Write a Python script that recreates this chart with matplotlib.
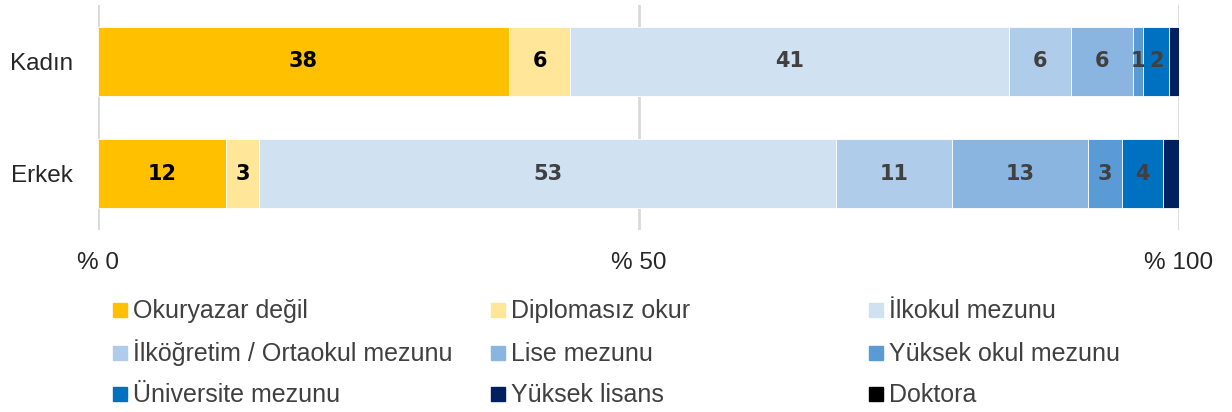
from matplotlib import pyplot as plt
from matplotlib.patches import Rectangle

groups = ['Kadın', 'Erkek']
categories = ['Okuryazar değil', 'Diplomasız okur', 'İlkokul mezunu',
              'İlköğretim / Ortaokul mezunu', 'Lise mezunu', 'Yüksek okul mezunu',
              'Üniversite mezunu', 'Yüksek lisans', 'Doktora']
kadin = [38.0, 5.7, 40.6, 5.7, 5.7, 1.0, 2.4, 1.0, 0.0]
erkek = [11.8, 3.1, 53.4, 10.7, 12.6, 3.1, 3.8, 1.5, 0.0]
colors = ['#FFC000', '#FFE699', '#D0E1F2', '#AFCCEA', '#8AB5E0',
          '#5B9BD5', '#0070C0', '#002060', '#000000']
labelColors = ['black', 'black'] + ['#404040'] * 7
showLabel = [True] * 7 + [False, False]
xticks = [0, 50, 100]
xtickLabels = ['% 0', '% 50', '% 100']

plt.rcParams['font.family'] = ['Liberation Sans', 'DejaVu Sans']

fig = plt.figure(figsize=(12.32, 4.12), dpi=100)
ax = fig.add_axes([98 / 1232, 1 - 230 / 412, 1081 / 1232, 225 / 412])

data = [kadin, erkek]
ypos = [1, 0]
for g in range(len(groups)):
    left = 0
    for i in range(len(categories)):
        v = data[g][i]
        ax.barh(ypos[g], v, left=left, height=0.616, color=colors[i],
                edgecolor='white', linewidth=0.6, zorder=3)
        if showLabel[i] and v > 0:
            ax.text(left + v / 2, ypos[g], '%d' % round(v), ha='center',
                    va='center', fontsize=15, fontweight='heavy',
                    color=labelColors[i], family='DejaVu Sans', zorder=4)
        left += v

ax.set_xlim(0, 100)
ax.set_ylim(-0.5, 1.5)
ax.set_xticks(xticks)
ax.set_xticklabels(xtickLabels)
ax.set_yticks(ypos)
ax.set_yticklabels(groups)
ax.tick_params(axis='both', length=0, labelsize=17.5, colors='#262626')
ax.tick_params(axis='x', pad=16)
ax.tick_params(axis='y', pad=18)
for s in ax.spines.values():
    s.set_visible(False)
ax.grid(axis='x', color='#D9D9D9', linewidth=2, zorder=0)
ax.set_axisbelow(True)

# legend, filled row by row
colX = [113, 491, 869]
rowY = [318, 361, 402]
for i, name in enumerate(categories):
    r, c = i // 3, i % 3
    x = colX[c]
    y = rowY[r]
    fig.patches.append(Rectangle((x / 1232, 1 - (y - 1) / 412), 14 / 1232, 14 / 412,
                                 transform=fig.transFigure, color=colors[i]))
    fig.text((x + 20) / 1232, 1 - y / 412, name, ha='left', va='baseline',
             fontsize=18, color='#404040')

fig.savefig('out.png', dpi=100)
